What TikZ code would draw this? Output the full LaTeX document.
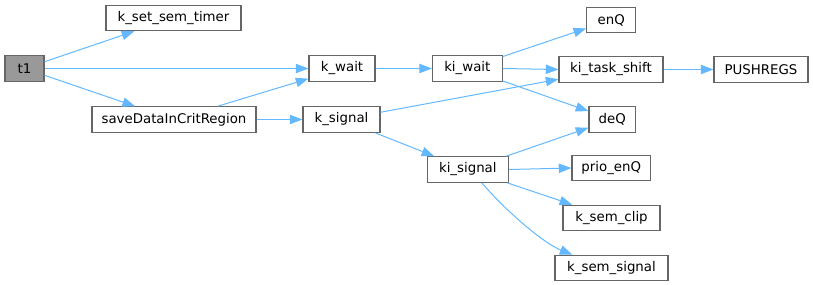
\documentclass[tikz,border=0pt]{standalone}
\usepackage{fontspec}
\setmainfont{DejaVu Sans}
\usetikzlibrary{arrows.meta}
\definecolor{edgeblue}{HTML}{63B8FF}
\definecolor{boxgray}{HTML}{666666}
\definecolor{rootfill}{HTML}{999999}
\begin{document}
\begin{tikzpicture}[x=0.75pt,y=-0.75pt,
  fn/.style={rectangle,draw=boxgray,line width=0.8pt,fill=white,inner sep=0pt,
    minimum height=19.1pt,font=\fontsize{10}{12}\selectfont,text=black},
  root/.style={fn,fill=rootfill},
  call/.style={draw=edgeblue,line width=0.75pt,-{Triangle[length=9.5pt,width=7pt]}}]
\useasboundingbox (0,0) rectangle (813,285);
\node[root,minimum width=29.25pt] (t1) at (24.5,68.5) {t1};
\node[fn,minimum width=101.25pt] (kset) at (173.5,18) {k\_set\_sem\_timer};
\node[fn,minimum width=123pt] (save) at (174,119.5) {saveDataInCritRegion};
\node[fn,minimum width=49.5pt] (kwait) at (342,68.5) {k\_wait};
\node[fn,minimum width=52.1pt] (kiwait) at (467.3,68.5) {ki\_wait};
\node[fn,minimum width=57.75pt] (ksig) at (341.5,119.5) {k\_signal};
\node[fn,minimum width=60.75pt] (kisig) at (467.8,169.5) {ki\_signal};
\node[fn,minimum width=36.75pt] (enq) at (611.2,20) {enQ};
\node[fn,minimum width=78pt] (kts) at (611,69.5) {ki\_task\_shift};
\node[fn,minimum width=70.5pt] (push) at (761,69.5) {PUSHREGS};
\node[fn,minimum width=35pt] (deq) at (612.3,119.5) {deQ};
\node[fn,minimum width=59pt] (prio) at (611.3,168) {prio\_enQ};
\node[fn,minimum width=72.75pt] (clip) at (611.5,218) {k\_sem\_clip};
\node[fn,minimum width=84.75pt] (ksemsig) at (611.5,268) {k\_sem\_signal};

\draw[call] (t1) -- (kset);
\draw[call] (t1) -- (kwait);
\draw[call] (t1) -- (save);
\draw[call] (save) -- (kwait);
\draw[call] (save) -- (ksig);
\draw[call] (kwait) -- (kiwait);
\draw[call] (kiwait) -- (enq);
\draw[call] (kiwait.east) -- (kts.west);
\draw[call] (kiwait) -- (deq);
\draw[call] (ksig) -- (kts);
\draw[call] (ksig) -- (kisig);
\draw[call] (kisig) -- (deq);
\draw[call] (kisig.east) -- (prio.west);
\draw[call] (kisig) -- (clip);
\draw[call] ([xshift=10.5pt]kisig.south) .. controls +(22,26) and +(-30,-12) .. ([xshift=13.5pt]ksemsig.north west);
\draw[call] (kts) -- (push);
\end{tikzpicture}
\end{document}
